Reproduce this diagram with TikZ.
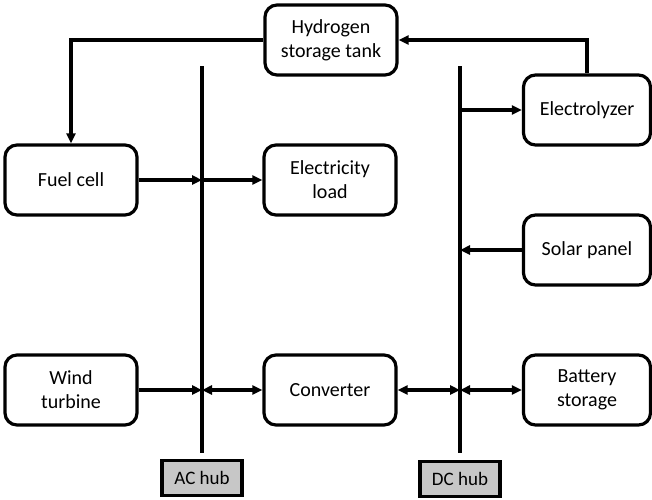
\documentclass[tikz,border=0pt]{standalone}
\usepackage{fontspec}
\setmainfont{Carlito}
\usetikzlibrary{arrows.meta}
\tikzset{
  unit/.style={draw,line width=3.2pt,rounded corners=12pt,minimum width=132pt,minimum height=70pt,align=center,font=\fontsize{20}{24}\selectfont},
  hublabel/.style={draw,line width=3.2pt,fill=black!22,minimum width=80pt,minimum height=35pt,inner sep=0pt,font=\fontsize{19}{22}\selectfont},
  hubline/.style={line width=3.2pt},
  link/.style={line width=3.2pt,-{Triangle[length=10pt,width=9pt]}},
  duplex/.style={line width=3.2pt,{Triangle[length=10pt,width=9pt]}-{Triangle[length=10pt,width=9pt]}}
}
\begin{document}
\begin{tikzpicture}[x=1pt,y=-1pt]
  \useasboundingbox (0,0) rectangle (652,499);
  % units
  \node[unit] (tank) at (331,40) {Hydrogen\\storage tank};
  \node[unit] (fuel) at (71,180) {Fuel cell};
  \node[unit] (load) at (330,180) {Electricity\\load};
  \node[unit,minimum width=127pt] (elec) at (587,110) {Electrolyzer};
  \node[unit,minimum width=127pt] (solar) at (587,250) {Solar panel};
  \node[unit] (wind) at (71,390) {Wind\\turbine};
  \node[unit] (conv) at (330,390) {Converter};
  \node[unit,minimum width=127pt] (batt) at (587,390) {Battery\\storage};
  % hubs
  \coordinate (actop) at (202,66);
  \coordinate (acbot) at (202,453);
  \coordinate (dctop) at (460,66);
  \coordinate (dcbot) at (460,453);
  \draw[hubline] (actop) -- (acbot);
  \draw[hubline] (dctop) -- (dcbot);
  \node[hublabel] (aclabel) at (202,478) {AC hub};
  \node[hublabel] (dclabel) at (460,479) {DC hub};
  % hydrogen loop
  \draw[link] (tank.west) -| (fuel.north);
  \draw[link] (elec.north) |- (tank.east);
  % AC side
  \draw[link] (fuel.east) -- (fuel.east -| actop);
  \draw[link] (fuel.east -| actop) -- (load.west);
  \draw[link] (wind.east) -- (wind.east -| actop);
  \draw[duplex] (wind.east -| actop) -- (conv.west);
  % DC side
  \draw[link] (dctop |- elec.west) -- (elec.west);
  \draw[link] (solar.west) -- (solar.west -| dctop);
  \draw[duplex] (conv.east) -- (conv.east -| dctop);
  \draw[duplex] (conv.east -| dctop) -- (batt.west);
\end{tikzpicture}
\end{document}
